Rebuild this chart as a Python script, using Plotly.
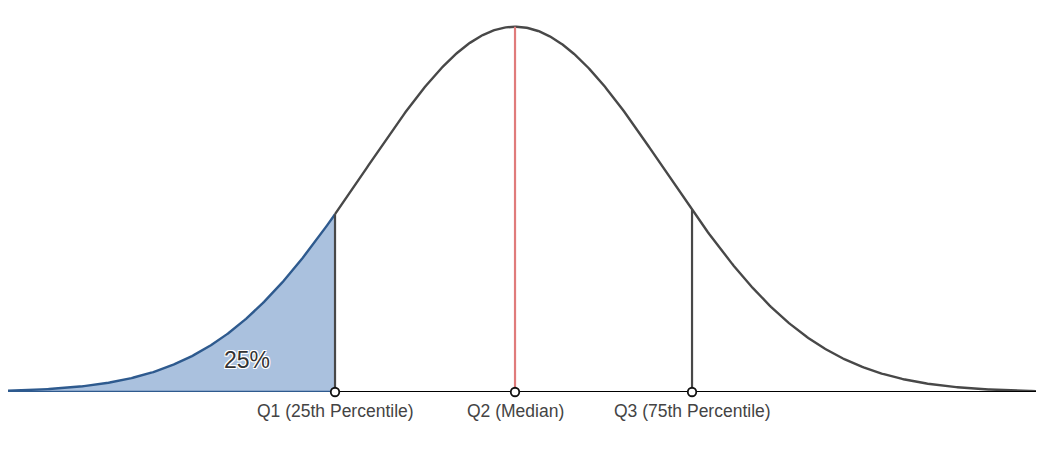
import numpy as np
import plotly.graph_objects as go

# 分布参数与四分位数
mean = 0.0
std_dev = 1.0
quartile_names = ['Q1 (25th Percentile)', 'Q2 (Median)', 'Q3 (75th Percentile)']
quartile_values = [-1.2, 0.0, 1.18]
x_min, x_max = -3.38, 3.473
shaded_label = '25%'

# 正态曲线（峰值归一化）
xs = np.linspace(x_min, x_max, 800)
ys = np.exp(-0.5 * ((xs - mean) / std_dev) ** 2)


def pdf(v):
    return float(np.exp(-0.5 * ((v - mean) / std_dev) ** 2))


q1, q2, q3 = quartile_values
fig = go.Figure()

# 左尾阴影区域
left = xs <= q1
x_fill = np.append(xs[left], q1)
y_fill = np.append(ys[left], pdf(q1))
fig.add_trace(go.Scatter(x=x_fill, y=y_fill, mode='lines', fill='tozeroy',
                         fillcolor='#aac1de', line=dict(color='#2e5a8e', width=2.4)))
fig.add_trace(go.Scatter(x=[x_min, q1], y=[0, 0], mode='lines', cliponaxis=False,
                         line=dict(color='#2e5a8e', width=2.4)))

# 其余曲线
right = xs >= q1
fig.add_trace(go.Scatter(x=np.insert(xs[right], 0, q1), y=np.insert(ys[right], 0, pdf(q1)),
                         mode='lines', line=dict(color='#484848', width=2.4)))

# 四分位竖线
fig.add_trace(go.Scatter(x=[q1, q1], y=[0, pdf(q1)], mode='lines',
                         line=dict(color='#484848', width=2.2)))
fig.add_trace(go.Scatter(x=[q3, q3], y=[0, pdf(q3)], mode='lines',
                         line=dict(color='#484848', width=2.2)))
fig.add_trace(go.Scatter(x=[q2, q2], y=[0, pdf(q2)], mode='lines',
                         line=dict(color='#e07b7b', width=2.2)))

# 基线
fig.add_trace(go.Scatter(x=[q1, x_max], y=[0, 0], mode='lines', cliponaxis=False,
                         line=dict(color='#000000', width=1.8)))

# 四分位点
fig.add_trace(go.Scatter(x=quartile_values, y=[0, 0, 0], mode='markers', cliponaxis=False,
                         marker=dict(size=8.5, color='white', line=dict(color='#111111', width=1.8))))

for name, v in zip(quartile_names, quartile_values):
    fig.add_annotation(x=v, y=0, text=name, showarrow=False, yanchor='middle', yshift=-19,
                       font=dict(size=17.5, color='#444444'))

fig.add_annotation(x=-1.787, y=0.088, text=shaded_label, showarrow=False,
                   font=dict(size=23, color='#333333',
                             shadow='1px 1px 0 white, -1px -1px 0 white, 1px -1px 0 white, '
                                    '-1px 1px 0 white, 0 1px 0 white, 0 -1px 0 white'))

# 页面有 8px 边距，图宽高相应缩小
fig.update_layout(
    width=1028, height=433,
    margin=dict(l=0, r=0, t=0, b=49),
    showlegend=False,
    plot_bgcolor='white', paper_bgcolor='white',
    font=dict(family='Liberation Sans, Arial, sans-serif'),
    xaxis=dict(range=[x_min, x_max], visible=False),
    yaxis=dict(range=[0, 1.0512], visible=False),
)

fig.write_html('out.html')
